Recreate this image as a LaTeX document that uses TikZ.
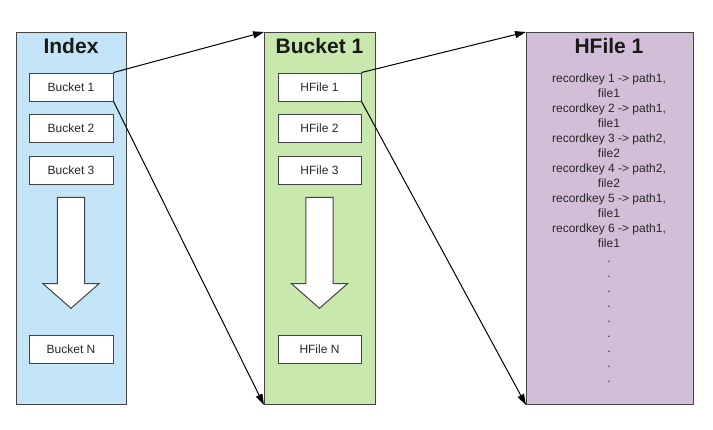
\documentclass[tikz,border=0pt]{standalone}
\usepackage{fontspec}
\setmainfont{Liberation Sans}
\usetikzlibrary{arrows.meta,shapes.arrows}
\definecolor{colblue}{RGB}{196,228,247}
\definecolor{colgreen}{RGB}{201,232,173}
\definecolor{colpurple}{RGB}{210,190,214}
\definecolor{edgegray}{RGB}{68,68,68}
\definecolor{txtgray}{RGB}{40,40,40}
\begin{document}
\begin{tikzpicture}[x=1pt,y=-1pt,
  column/.style={draw=edgegray,line width=1pt,inner sep=0pt,anchor=north west},
  itembox/.style={draw=edgegray,line width=1pt,fill=white,minimum width=84pt,minimum height=28pt,inner sep=0pt,
    font=\fontsize{12}{15}\selectfont,text=txtgray},
  title/.style={font=\fontsize{21}{25}\selectfont\bfseries,text=black!90,anchor=base,inner sep=0pt},
  rec/.style={font=\fontsize{12}{15}\selectfont,text=txtgray,anchor=base,inner sep=0pt},
  blockarrow/.style={draw=edgegray,line width=1pt,fill=white,line join=miter},
  link/.style={draw=black,line width=1pt,-{Triangle[length=11pt,width=7pt]}}]
\useasboundingbox (0,0) rectangle (713,429);
% columns
\node[column,fill=colblue,minimum width=110pt,minimum height=372pt] (idx) at (16,32) {};
\node[column,fill=colgreen,minimum width=111pt,minimum height=372pt] (bkt) at (264,32) {};
\node[column,fill=colpurple,minimum width=167pt,minimum height=372pt] (hf) at (526,32) {};
% titles
\node[title] (tidx) at (71,53) {Index};
\node[title] (tbkt) at (319.5,53) {Bucket 1};
\node[title] (thf) at (609,53) {HFile 1};
% index items
\node[itembox] (b1) at (71,87) {Bucket 1};
\node[itembox] (b2) at (71,128.5) {Bucket 2};
\node[itembox] (b3) at (71,170) {Bucket 3};
\node[itembox] (bn) at (71,349.5) {Bucket N};
% bucket items
\node[itembox,minimum width=83pt] (h1) at (319.5,87) {HFile 1};
\node[itembox,minimum width=83pt] (h2) at (319.5,128.5) {HFile 2};
\node[itembox,minimum width=83pt] (h3) at (319.5,170) {HFile 3};
\node[itembox,minimum width=83pt] (hn) at (319.5,349.5) {HFile N};
% block arrows
\draw[blockarrow] (57.3,197.3) -- (84.7,197.3) -- (84.7,283.7) -- (99,283.7) -- (71,308.3) -- (43,283.7) -- (57.3,283.7) -- cycle;
\draw[blockarrow] (305.8,197.3) -- (333.2,197.3) -- (333.2,283.7) -- (347.5,283.7) -- (319.5,308.3) -- (291.5,283.7) -- (305.8,283.7) -- cycle;
% records
\foreach \k/\p in {1/1,2/1,3/2,4/2,5/1,6/1}{
  \pgfmathsetmacro{\yy}{82+30*(\k-1)}
  \pgfmathsetmacro{\yf}{97+30*(\k-1)}
  \node[rec] (r\k) at (609,\yy) {recordkey \k{} -> path\p,};
  \node[rec] (f\k) at (609,\yf) {file\p};
}
\foreach \i in {0,...,8}{
  \pgfmathsetmacro{\yd}{262+15*\i}
  \node[rec] (d\i) at (609,\yd) {.};
}
% links
\draw[link] (b1.north east) -- (bkt.north west);
\draw[link] (b1.south east) -- (bkt.south west);
\draw[link] (h1.north east) -- (hf.north west);
\draw[link] (h1.south east) -- (hf.south west);
\end{tikzpicture}
\end{document}
